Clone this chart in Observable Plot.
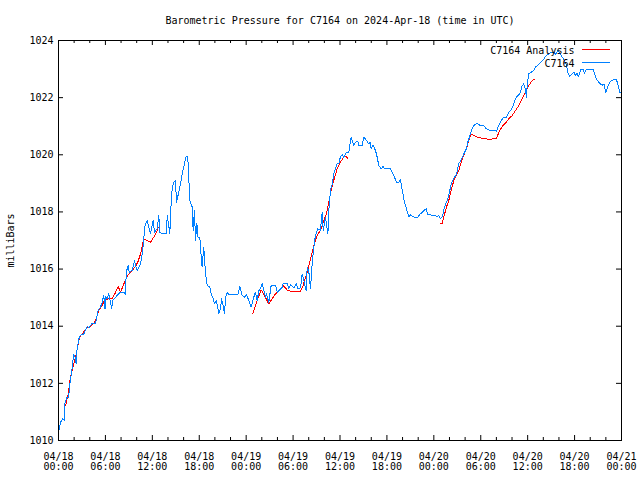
<!DOCTYPE html>
<html><head><meta charset="utf-8">
<script src="https://cdn.jsdelivr.net/npm/d3@7"></script>
<script src="https://cdn.jsdelivr.net/npm/@observablehq/plot@0.6"></script>
<style>
body{margin:0;background:#fff;}
#wrap{position:relative;width:640px;height:480px;}
.sw{position:absolute;height:0;width:28px;left:582px;}
</style></head><body><div id="wrap"></div><script>
const titleText = "Barometric Pressure for C7164 on 2024-Apr-18 (time in UTC)";
const yLabel = "milliBars";
const seriesNames = ["C7164 Analysis", "C7164"];
const seriesColors = ["#ff0000", "#0080ff"];
const yTicks = [1010, 1012, 1014, 1016, 1018, 1020, 1022, 1024];
const majorTickHours = [0, 6, 12, 18, 24, 30, 36, 42, 48, 54, 60, 66, 72];
const minorTickHours = [2, 4, 8, 10, 14, 16, 20, 22, 26, 28, 32, 34, 38, 40, 44, 46, 50, 52, 56, 58, 62, 64, 68, 70];

// observations: hours since 2024-04-18 00:00 UTC
const obsHours = [0.0,0.26,0.55,0.78,0.81,1.11,1.3,1.41,1.66,1.83,1.9,2.1,2.2,2.3,2.35,2.6,2.81,3.24,3.67,3.9,4.22,4.73,5.07,5.37,5.58,5.79,5.95,6.05,6.2,6.43,6.65,6.78,6.95,7.1,7.5,7.93,8.35,8.6,8.65,8.78,8.9,9.05,9.42,9.72,9.85,10.06,10.49,10.7,10.91,11.0,11.34,11.55,11.76,12.1,12.28,12.62,12.83,12.96,13.26,13.81,13.9,14.1,14.23,14.41,14.54,14.74,14.96,15.09,15.38,15.6,15.82,16.11,16.33,16.53,16.66,16.79,17.1,17.22,17.39,17.52,17.7,17.82,18.07,18.25,18.37,18.58,18.8,19.02,19.35,19.52,19.78,19.95,20.2,20.5,20.72,20.84,21.06,21.23,21.36,21.57,21.78,22.93,23.18,23.49,23.79,24.04,24.34,24.64,24.98,25.19,25.41,25.62,25.83,26.05,26.26,26.47,26.6,26.89,27.2,27.75,27.97,28.3,28.61,28.73,29.24,29.45,29.67,30.09,30.43,30.6,30.95,31.16,31.37,31.68,31.8,32.0,32.23,32.44,32.65,32.86,33.16,33.5,33.72,33.85,34.14,34.45,34.57,34.78,35.0,35.2,35.63,35.85,36.06,36.28,36.48,36.83,37.12,37.43,37.76,37.98,38.27,38.4,38.84,39.04,39.39,39.68,39.85,39.99,40.24,40.54,40.75,40.96,41.27,41.52,41.69,42.46,42.67,42.88,43.22,43.52,43.73,43.86,44.08,44.25,44.5,44.8,45.01,45.44,45.87,46.2,46.51,46.8,47.02,47.22,47.57,47.66,48.21,48.43,48.6,48.85,49.1,49.36,49.62,49.91,50.22,50.55,50.9,51.19,51.5,51.83,52.17,52.34,52.69,52.9,53.2,53.54,53.87,54.31,54.73,55.24,55.67,56.01,56.31,56.61,56.94,57.25,57.58,57.89,58.22,58.44,58.73,58.99,59.3,59.5,59.7,59.85,59.95,60.14,60.45,60.78,61.0,61.29,61.64,61.98,62.4,62.7,62.92,63.35,63.55,63.85,64.1,64.41,64.71,64.96,65.13,65.38,65.69,65.9,66.11,66.3,66.48,66.79,67.05,67.26,67.52,68.1,68.43,68.65,68.87,69.2,69.53,69.75,69.99,70.2,70.42,70.59,70.93,71.36,71.52,71.78,72.0];
const obsPressure = [1010.29,1010.64,1010.76,1010.70,1011.31,1011.52,1011.5,1011.87,1012.39,1012.68,1013.0,1012.95,1012.75,1012.68,1013.15,1013.56,1013.68,1013.73,1013.99,1013.94,1014.08,1014.08,1014.55,1014.67,1014.84,1015.08,1014.61,1015.05,1014.95,1015.13,1014.85,1014.61,1014.9,1014.95,1015.08,1015.19,1015.19,1015.1,1015.9,1016.0,1016.13,1015.89,1015.95,1016.3,1016.13,1015.95,1016.18,1016.53,1017.0,1017.47,1017.70,1017.47,1017.23,1017.70,1017.29,1017.41,1017.88,1017.29,1017.23,1017.23,1017.88,1017.53,1017.23,1018.34,1018.81,1019.04,1019.10,1018.34,1018.69,1018.98,1019.33,1019.69,1019.94,1019.94,1019.22,1018.4,1018.17,1017.35,1018.05,1017.0,1017.6,1017.12,1017.12,1016.42,1016.07,1016.77,1015.83,1015.43,1015.37,1015.13,1014.96,1014.78,1014.9,1014.43,1014.61,1014.96,1014.73,1014.43,1015.02,1015.19,1015.11,1015.11,1015.39,1015.08,1015.02,1015.11,1014.90,1014.67,1015.02,1015.19,1014.9,1015.25,1015.31,1015.51,1015.25,1015.02,1015.13,1014.84,1015.43,1015.43,1015.19,1015.27,1015.37,1015.51,1015.51,1015.31,1015.46,1015.34,1015.48,1015.31,1015.34,1015.83,1015.6,1015.25,1016.07,1015.95,1015.31,1016.18,1016.77,1017.18,1017.41,1017.35,1017.99,1017.35,1017.82,1017.23,1018.05,1018.75,1018.98,1019.33,1019.69,1019.69,1019.94,1020.01,1019.92,1020.09,1020.09,1020.62,1020.33,1020.44,1020.48,1020.33,1020.33,1020.62,1020.5,1020.38,1020.44,1020.21,1020.33,1020.15,1019.92,1019.63,1019.51,1019.59,1019.51,1019.51,1019.39,1019.28,1019.04,1019.04,1019.12,1018.93,1018.58,1018.34,1018.11,1017.82,1017.9,1017.82,1017.79,1017.91,1017.99,1018.07,1018.11,1017.91,1017.9,1017.88,1017.88,1017.82,1017.88,1017.76,1017.85,1018.17,1018.34,1018.58,1018.98,1019.16,1019.33,1019.69,1019.82,1020.03,1020.21,1020.44,1020.73,1020.91,1021.05,1021.11,1021.03,1021.03,1020.91,1020.84,1020.85,1020.83,1021.03,1021.2,1021.32,1021.3,1021.49,1021.57,1021.78,1021.96,1022.07,1022.13,1022.42,1022.48,1022.3,1022.02,1022.48,1022.83,1022.89,1022.95,1023.07,1023.13,1023.24,1023.32,1023.48,1023.51,1023.59,1023.59,1023.51,1023.65,1023.56,1023.42,1023.3,1023.13,1022.89,1022.74,1022.83,1022.89,1022.78,1022.86,1022.74,1022.97,1023.0,1022.86,1023.0,1023.0,1022.97,1022.74,1022.62,1022.51,1022.43,1022.48,1022.16,1022.37,1022.48,1022.58,1022.62,1022.62,1022.48,1022.19,1022.16];

// analysis: null entries break the line between segments
const analysisHours = [0.9,1.24,1.53,1.96,2.26,2.52,2.69,3.03,3.37,3.67,4.09,4.52,4.82,5.16,5.58,5.92,6.35,6.86,7.2,7.63,7.93,8.35,8.65,8.99,9.42,9.85,10.19,10.49,10.78,10.91,11.34,11.76,12.19,12.62,12.75,
 null,
 24.85,24.98,25.41,25.92,26.34,26.89,27.33,27.75,28.17,28.73,29.24,29.67,30.95,31.29,31.8,32.23,32.65,33.08,33.5,33.92,34.27,34.57,34.87,35.2,35.63,36.06,36.48,36.83,37.0,
 null,
 48.76,49.07,49.27,49.62,49.91,50.22,50.55,50.9,51.19,51.5,51.83,52.17,52.47,52.77,53.11,53.54,53.96,54.82,55.33,56.01,56.31,56.74,57.16,57.58,58.02,58.44,58.86,59.3,59.72,60.14,60.58,60.87];
const analysisPressure = [1011.22,1011.61,1012.22,1012.68,1013.03,1013.38,1013.62,1013.73,1013.85,1013.94,1013.99,1014.11,1014.26,1014.55,1014.73,1014.92,1014.96,1014.96,1015.13,1015.39,1015.19,1015.48,1015.66,1015.83,1015.95,1016.09,1016.28,1016.53,1016.9,1017.06,1017.0,1016.94,1017.12,1017.35,1017.45,
 null,
 1014.45,1014.55,1014.9,1015.27,1015.08,1014.78,1014.96,1015.13,1015.25,1015.43,1015.27,1015.22,1015.22,1015.43,1015.89,1016.36,1016.83,1017.18,1017.35,1017.7,1017.93,1018.34,1018.75,1019.1,1019.51,1019.74,1019.92,1019.94,1019.86,
 null,
 1017.58,1017.6,1017.82,1018.17,1018.4,1018.75,1019.1,1019.28,1019.45,1019.74,1019.98,1020.21,1020.5,1020.71,1020.68,1020.62,1020.59,1020.55,1020.55,1020.56,1020.79,1020.99,1021.11,1021.26,1021.37,1021.55,1021.72,1021.96,1022.19,1022.42,1022.6,1022.64];

const base = Date.UTC(2024, 3, 18);
const toDate = h => (h == null ? null : new Date(base + h * 3600e3));
const obs = obsHours.map((h, i) => ({t: toDate(h), p: obsPressure[i]}));
const ana = analysisHours.map((h, i) => ({t: toDate(h), p: analysisPressure[i]}));
const major = majorTickHours.map(toDate);
const minor = minorTickHours.map(toDate);
const fmt = d3.utcFormat("%m/%d\n%H:%M");
const FONT = "DejaVu Sans Mono";

const W = 640, H = 480, ML = 58, MR = 19, MT = 40, MB = 40;
const innerW = W - ML - MR, innerH = H - MT - MB;
const MAJ = 5, MIN = 3;
const tk = {stroke: "#000", strokeWidth: 1};

const chart = Plot.plot({
  width: W, height: H,
  marginLeft: ML, marginRight: MR, marginTop: MT, marginBottom: MB,
  style: {fontFamily: FONT, fontSize: "10px", color: "#000", background: "#fff", overflow: "visible"},
  x: {type: "utc", domain: [toDate(0), toDate(72)]},
  y: {domain: [1010, 1024]},
  marks: [
    Plot.line(ana, {x: "t", y: "p", stroke: seriesColors[0], strokeWidth: 1, shapeRendering: "crispEdges"}),
    Plot.line(obs, {x: "t", y: "p", stroke: seriesColors[1], strokeWidth: 1, shapeRendering: "crispEdges"}),
    Plot.frame({stroke: "#000", shapeRendering: "crispEdges"}),
    Plot.axisX(major, {anchor: "bottom", tickSize: 0, tickPadding: 12, tickFormat: fmt, lineHeight: 1.0, label: null}),
    Plot.axisY(yTicks, {anchor: "left", tickSize: 0, tickPadding: 5, tickFormat: d => String(d), label: null}),
    // inward ticks, mirrored on all sides
    Plot.tickX(major, {x: d => d, insetTop: innerH - MAJ, ...tk}),
    Plot.tickX(major, {x: d => d, insetBottom: innerH - MAJ, ...tk}),
    Plot.tickX(minor, {x: d => d, insetTop: innerH - MIN, ...tk}),
    Plot.tickX(minor, {x: d => d, insetBottom: innerH - MIN, ...tk}),
    Plot.tickY(yTicks, {y: d => d, insetRight: innerW - MAJ, ...tk}),
    Plot.tickY(yTicks, {y: d => d, insetLeft: innerW - MAJ, ...tk}),
    Plot.text([titleText], {frameAnchor: "top", dy: -20, fontSize: 10, lineAnchor: "middle"}),
    Plot.text([yLabel], {frameAnchor: "left", dx: -48, rotate: -90, fontSize: 10, lineAnchor: "middle", textAnchor: "middle"}),
    Plot.text([seriesNames[0]], {frameAnchor: "top-right", dx: -47, dy: 10, textAnchor: "end", lineAnchor: "middle", fontSize: 10}),
    Plot.text([seriesNames[1]], {frameAnchor: "top-right", dx: -47, dy: 23, textAnchor: "end", lineAnchor: "middle", fontSize: 10})
  ]
});
const wrap = document.getElementById("wrap");
wrap.appendChild(chart);
seriesColors.forEach((c, i) => {
  const s = document.createElement("div");
  s.className = "sw";
  s.style.top = (i === 0 ? 49 : 62) + "px";
  s.style.borderTop = "1px solid " + c;
  wrap.appendChild(s);
});
</script></body></html>
